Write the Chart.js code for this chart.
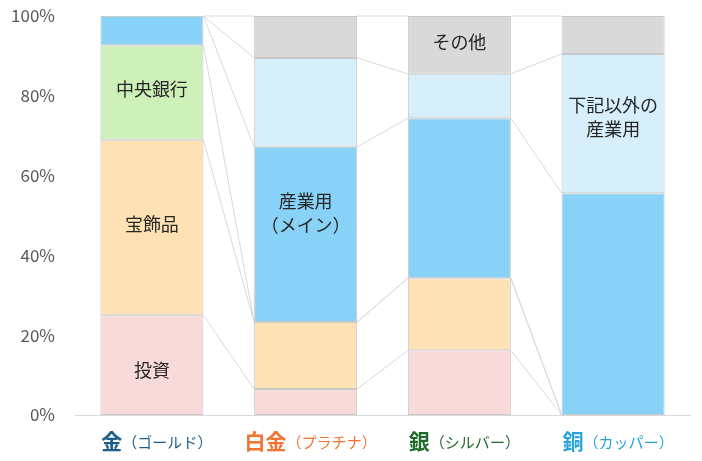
<!DOCTYPE html>
<html>
<head>
<meta charset="utf-8">
<script src="https://cdn.jsdelivr.net/npm/chart.js@4/dist/chart.umd.min.js"></script>
<style>
  html, body { margin: 0; padding: 0; background: #fff; }
  #wrap { width: 702px; height: 461px; }
</style>
</head>
<body>
<div id="wrap"><canvas id="myChart" width="702" height="461"></canvas></div>
<script>
// categories (metal name + reading)
var metals = ['金', '白金', '銀', '銅'];
var readings = ['（ゴールド）', '（プラチナ）', '（シルバー）', '（カッパー）'];
var metalColors = ['#1d5f8a', '#f07533', '#1f6b2a', '#29a3dd'];

// usage series, bottom to top (% of demand)
var seriesNames = ['投資', '宝飾品', '中央銀行', '産業用（メイン）', '下記以外の産業用', 'その他'];
var investment = [25, 6.5, 16.2, 0];
var jewelry = [44, 16.8, 18.1, 0];
var centralBank = [23.7, 0, 0, 0];
var industryMain = [7.3, 43.9, 40.1, 55.6];
var industryOther = [0, 22.3, 11.1, 34.9];
var others = [0, 10.5, 14.5, 9.5];

var yTicks = [0, 20, 40, 60, 80, 100];

// which segment carries a label: [series index, category index, text lines]
var segLabels = [
	[0, 0, ['投資']],
	[1, 0, ['宝飾品']],
	[2, 0, ['中央銀行']],
	[3, 1, ['産業用', '（メイン）']],
	[4, 3, ['下記以外の', '産業用']],
	[5, 2, ['その他']]
];

var fills = ['#f9dada', '#ffe2b3', '#cdf0b8', '#89d2f7', '#d7effb', '#d9d9d9'];
var labelShift = [5, -3, -3, -21, -6, -3];

var seriesData = [investment, jewelry, centralBank, industryMain, industryOther, others];

var datasets = seriesData.map(function (d, i) {
	return {
		label: seriesNames[i],
		data: d,
		backgroundColor: fills[i],
		borderColor: '#c9c9c9',
		borderWidth: 1,
		borderSkipped: false,
		barPercentage: 0.67,
		categoryPercentage: 1.0,
		stack: 's'
	};
});

// Excel style series lines between neighbouring columns
var seriesLines = {
	id: 'seriesLines',
	beforeDatasetsDraw: function (chart) {
		var ctx = chart.ctx;
		ctx.save();
		ctx.strokeStyle = '#d9d9d9';
		ctx.lineWidth = 1;
		chart.data.datasets.forEach(function (ds, i) {
			var bars = chart.getDatasetMeta(i).data;
			for (var j = 0; j < bars.length - 1; j++) {
				var a = bars[j], b = bars[j + 1];
				ctx.beginPath();
				ctx.moveTo(a.x + a.width / 2, a.y);
				ctx.lineTo(b.x - b.width / 2, b.y);
				ctx.stroke();
			}
		});
		ctx.restore();
	},
	afterDatasetsDraw: function (chart) {
		var ctx = chart.ctx;
		ctx.save();
		ctx.fillStyle = '#262626';
		ctx.font = '18px "Noto Sans CJK JP", sans-serif';
		ctx.textAlign = 'center';
		ctx.textBaseline = 'middle';
		segLabels.forEach(function (s) {
			var bar = chart.getDatasetMeta(s[0]).data[s[1]];
			var cy = (bar.y + bar.base) / 2 + labelShift[s[0]];
			var lines = s[2];
			var lh = 24;
			lines.forEach(function (t, k) {
				ctx.fillText(t, bar.x, cy + (k - (lines.length - 1) / 2) * lh);
			});
		});
		ctx.restore();
	},
	afterDraw: function (chart) {
		// category labels with two font sizes
		var ctx = chart.ctx;
		var xs = chart.scales.x;
		ctx.save();
		ctx.textBaseline = 'alphabetic';
		ctx.textAlign = 'left';
		metals.forEach(function (m, i) {
			var big = 'bold 21px "Noto Sans CJK JP", sans-serif';
			var small = '15px "Noto Sans CJK JP", sans-serif';
			ctx.font = big;
			var w1 = ctx.measureText(m).width;
			ctx.font = small;
			var w2 = ctx.measureText(readings[i]).width;
			var x0 = xs.getPixelForValue(i) - (w1 + w2) / 2 + 5;
			var y = 449;
			ctx.fillStyle = metalColors[i];
			ctx.font = big;
			ctx.fillText(m, x0, y);
			ctx.font = small;
			ctx.fillText(readings[i], x0 + w1, y - 1);
		});
		ctx.restore();
	}
};

const ctx = document.getElementById('myChart').getContext('2d');
const myChart = new Chart(ctx, {
	type: 'bar',
	data: {
		labels: metals,
		datasets: datasets
	},
	plugins: [seriesLines],
	options: {
		responsive: false,
		animation: false,
		layout: { padding: { top: 16, right: 12, left: 0, bottom: 0 } },
		plugins: {
			legend: { display: false },
			tooltip: { enabled: false }
		},
		scales: {
			x: {
				stacked: true,
				grid: { display: false, drawTicks: false },
				border: { display: true, color: '#d9d9d9', width: 1 },
				ticks: { display: false },
				afterFit: function (scale) { scale.height = 46; }
			},
			y: {
				stacked: true,
				min: 0,
				max: 100,
				afterBuildTicks: function (scale) {
					scale.ticks = yTicks.map(function (v) { return { value: v }; });
				},
				grid: { display: false, drawTicks: false },
				border: { display: false },
				ticks: {
					padding: 20,
					color: '#595959',
					font: { size: 17, family: '"Noto Sans CJK JP", sans-serif' },
					callback: function (v) { return v + '%'; }
				},
				afterFit: function (scale) {
					scale.width = 75;
					scale.paddingTop = 0;
					scale.paddingBottom = 0;
				}
			}
		}
	}
});
</script>
</body>
</html>
